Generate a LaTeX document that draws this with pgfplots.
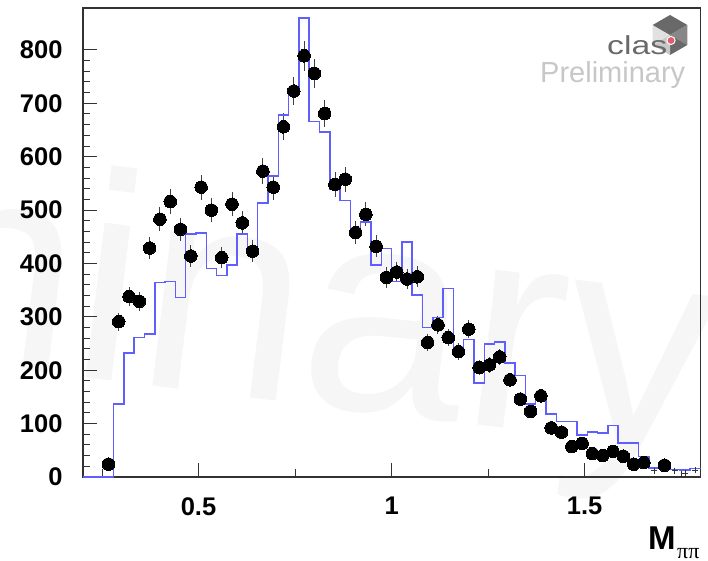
\documentclass[border=0pt]{standalone}
\usepackage{fontspec}
\setmainfont{Liberation Sans}
\newfontfamily\seriffont{Liberation Serif}
\usepackage{pgfplots}
\pgfplotsset{compat=1.18}
\usepackage{pgfplotstable}

\definecolor{histblue}{RGB}{95,95,255}
\definecolor{framegray}{RGB}{50,50,50}
\definecolor{logodark}{RGB}{105,105,105}
\definecolor{logomid}{RGB}{135,135,135}
\definecolor{logolight}{RGB}{200,200,200}
\definecolor{logopale}{RGB}{225,225,225}
\definecolor{logored}{RGB}{225,90,110}

\pgfplotstableread{
x y e
0.2667 24 4.9
0.2933 291 17.1
0.3200 338 18.4
0.3467 329 18.1
0.3733 429 20.7
0.4000 483 22.0
0.4267 516 22.7
0.4533 464 21.5
0.4800 414 20.3
0.5067 543 23.3
0.5333 500 22.4
0.5600 411 20.3
0.5867 511 22.6
0.6133 476 21.8
0.6400 423 20.6
0.6667 573 23.9
0.6933 543 23.3
0.7200 656 25.6
0.7467 723 26.9
0.7733 789 28.1
0.8000 756 27.5
0.8267 681 26.1
0.8533 548 23.4
0.8800 558 23.6
0.9067 458 21.4
0.9333 492 22.2
0.9600 432 20.8
0.9867 374 19.3
1.0133 384 19.6
1.0400 371 19.3
1.0667 375 19.4
1.0933 252 15.9
1.1200 285 16.9
1.1467 261 16.2
1.1733 235 15.3
1.2000 277 16.6
1.2267 205 14.3
1.2533 210 14.5
1.2800 225 15.0
1.3067 182 13.5
1.3333 146 12.1
1.3600 123 11.1
1.3867 152 12.3
1.4133 92 9.6
1.4400 84 9.2
1.4667 57 7.5
1.4933 63 7.9
1.5200 44 6.6
1.5467 40 6.3
1.5733 48 6.9
1.6000 39 6.2
1.6267 24 4.9
1.6533 27 5.2
1.7067 22 4.7
}\datatab

\pgfplotstableread{
x y e
1.6800 12 3.5
1.7333 12 3.5
1.7600 7 2.6
1.7867 13 3.6
}\smalltab

\pgfplotstableread{
x y
0.2 0
0.2267 0
0.2533 0
0.28 137
0.3067 232
0.3333 261
0.36 268
0.3867 364
0.4133 366
0.44 336
0.4667 455
0.4933 457
0.52 391
0.5467 377
0.5733 397
0.6 455
0.6267 425
0.6533 513
0.68 564
0.7067 678
0.7333 723
0.76 860
0.7867 666
0.8133 646
0.84 539
0.8667 518
0.8933 465
0.92 478
0.9467 397
0.9733 428
1.0 366
1.0267 440
1.0533 341
1.08 280
1.1067 299
1.1333 353
1.16 232
1.1867 258
1.2133 176
1.24 249
1.2667 253
1.2933 214
1.32 190
1.3467 137
1.3733 146
1.4 118
1.4267 104
1.4533 104
1.48 79
1.5067 84
1.5333 82
1.56 96
1.5867 64
1.6133 64
1.64 38
1.6667 17
1.6933 17
1.72 14
1.7467 13
1.7733 16
1.8 16
}\histtab

\begin{document}
\begin{tikzpicture}[x=1pt,y=1pt]
\useasboundingbox (0,0) rectangle (708,561);
% faint background watermark
\node[anchor=base east, rotate=-7, text=black!3.5, inner sep=0pt,
      font=\fontsize{295}{295}\selectfont] at (702,108) {Preliminary};

\begin{axis}[
  at={(82.7pt,84pt)}, anchor=south west,
  scale only axis, width=617.8pt, height=468.7pt,
  xmin=0.2, xmax=1.8, ymin=0, ymax=878,
  xtick={0.5,1,1.5},
  minor xtick={0.25,0.75,1.25,1.75},
  ytick={0,100,...,800},
  minor y tick num=4,
  xtick pos=bottom, ytick pos=left,
  tick align=inside,
  major tick length=14pt, minor tick length=7.5pt,
  axis line style={line width=1.6pt, framegray},
  every tick/.style={line width=1pt, framegray},
  /pgf/number format/assume math mode=true,
  every tick label/.append style={font=\fontsize{25.5}{25.5}\selectfont\bfseries, inner sep=0pt},
  yticklabel style={xshift=-20pt},
  xticklabel style={yshift=-20pt},
  clip=false,
]
\addplot[only marks, mark=*, mark size=6.3pt,
  mark options={fill=black, draw=black, line width=0pt},
  error bars/.cd, y dir=both, y explicit,
  error bar style={line width=0.9pt, black!75}, error mark=none]
  table[x=x, y=y, y error=e]{\datatab};
\addplot[only marks, mark=+, mark size=3pt,
  mark options={line width=0.8pt, black!80},
  error bars/.cd, y dir=both, y explicit,
  error bar style={line width=0.8pt, black!80}, error mark=none]
  table[x=x, y=y, y error=e]{\smalltab};
\addplot[const plot, draw=histblue, line width=1.5pt, line join=miter, mark=none] table[x=x, y=y]{\histtab};
\end{axis}

% CLAS logo
\begin{scope}[shift={(670,526)}]
  \fill[logodark]  (0,0) -- (90:20) -- (30:20) -- cycle;
  \fill[logomid]   (0,0) -- (30:20) -- (-30:20) -- cycle;
  \fill[logodark]  (0,0) -- (-30:20) -- (-90:20) -- cycle;
  \fill[logolight] (0,0) -- (-90:20) -- (-150:20) -- cycle;
  \fill[logopale]  (0,0) -- (-150:20) -- (150:20) -- cycle;
  \fill[logodark]  (0,0) -- (150:20) -- (90:20) -- cycle;
\end{scope}
\node[anchor=base west, inner sep=0pt, text=logodark,
      font=\fontsize{26}{26}\selectfont] at (607,506) {\scalebox{1.3}[1]{clas}};
\fill[white] (671,520.5) circle (4.6);
\fill[logored] (671,520.5) circle (3.4);
\node[anchor=base west, inner sep=0pt, text=black!22,
      font=\fontsize{29}{29}\selectfont] at (540,478.3) {Preliminary};

% axis title
\node[anchor=base west, inner sep=0pt, font=\fontsize{33}{33}\selectfont\bfseries] at (648,11) {M};
\node[anchor=base west, inner sep=0pt, font=\fontsize{22}{22}\selectfont\seriffont] at (677,2) {ππ};
\end{tikzpicture}
\end{document}
